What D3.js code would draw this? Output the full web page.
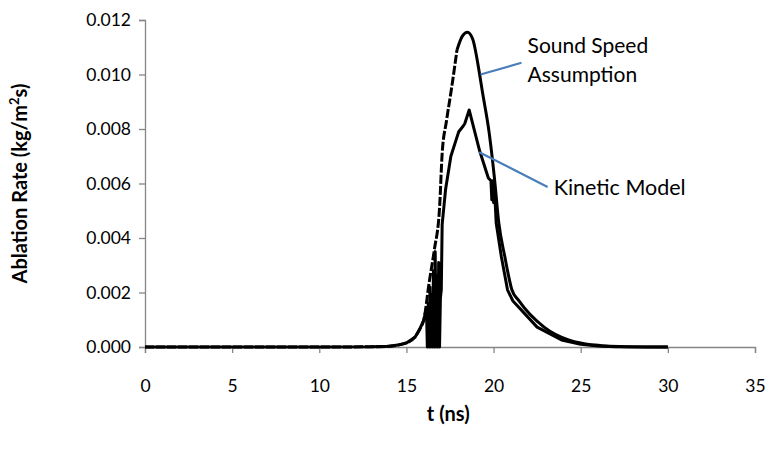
<!DOCTYPE html>
<html>
<head>
<meta charset="utf-8">
<script src="https://cdn.jsdelivr.net/npm/d3@7"></script>
<style>
  body { margin: 0; background: #fff; }
  text { font-family: Lato, "Open Sans", sans-serif; fill: #000; }
</style>
</head>
<body>
<div id="chart"></div>
<script>
// Ablation rate vs time - sound speed assumption vs kinetic model

// sound speed assumption (t in ns, rate in kg/m2s)
const ssT = [0, 5, 10, 13, 14, 14.5, 15, 15.5, 15.8, 16.0, 16.3, 16.6, 16.9, 17.05, 17.3, 17.6, 17.9, 18.2, 18.5, 18.8, 19.2, 19.35, 19.75, 20.05, 20.3, 20.65, 21.05, 21.45, 22.9, 24.3, 25.2, 26.2, 27.2, 30];
const ssRate = [0, 0, 0, 0.00001, 0.00003, 0.00007, 0.00015, 0.00037, 0.0007, 0.001, 0.00235, 0.00356, 0.0051, 0.0071, 0.0083, 0.00954, 0.0109, 0.0114, 0.01155, 0.0113, 0.0100, 0.0094, 0.00785, 0.0062, 0.00455, 0.0033, 0.0021, 0.0017, 0.00073, 0.00026, 0.00012, 0.00005, 0.00002, 0];

// kinetic model
const kmT = [0, 5, 10, 13, 14, 14.5, 15, 15.5, 15.8, 16.0, 16.1, 16.15, 16.2, 16.25, 16.3, 16.35, 16.4, 16.45, 16.5, 16.55, 16.6, 16.65, 16.7, 16.75, 16.8, 16.85, 16.9, 16.95, 17.0, 17.05, 17.25, 17.55, 17.85, 18.0, 18.25, 18.35, 18.6, 18.8, 19.2, 19.7, 19.85, 19.9, 19.95, 20.0, 20.05, 20.1, 20.15, 20.45, 20.8, 21.1, 22.5, 23.9, 25, 26, 27, 30];
const kmRate = [0, 0, 0, 0.00001, 0.00003, 0.00007, 0.00015, 0.00037, 0.0007, 0.001, 0.0013, 0.0014, 0, 0.0016, 0, 0.0022, 0, 0.0019, 0, 0.0028, 0, 0.0035, 0, 0.0026, 0, 0.0031, 0, 0.0018, 0.0021, 0.0045, 0.0058, 0.0070, 0.0076, 0.0079, 0.0081, 0.0082, 0.0087, 0.0082, 0.0072, 0.0062, 0.0061, 0.0054, 0.0061, 0.0053, 0.0058, 0.0052, 0.00455, 0.0033, 0.0021, 0.0017, 0.00073, 0.00026, 0.0001, 0.00004, 0.00001, 0];

const xTicks = [0, 5, 10, 15, 20, 25, 30, 35];
const yTicks = [0, 0.002, 0.004, 0.006, 0.008, 0.010, 0.012];

// set the dimensions and margins of the graph
const margin = {top: 20, right: 16, bottom: 108, left: 145},
    width = 771 - margin.left - margin.right,
    height = 455 - margin.top - margin.bottom;

const svg = d3.select("#chart")
  .append("svg")
    .attr("width", 771)
    .attr("height", 455);

const g = svg.append("g")
    .attr("transform", `translate(${margin.left}, ${margin.top})`);

const x = d3.scaleLinear().domain([0, 35]).range([0, width]);
const y = d3.scaleLinear().domain([0, 0.012]).range([height, 0]);

// axes
const xAxis = g.append("g")
  .attr("transform", `translate(0, ${height})`)
  .call(d3.axisBottom(x).tickValues(xTicks).tickSize(6).tickPadding(27).tickFormat(d3.format("d")));
const yAxis = g.append("g")
  .call(d3.axisLeft(y).tickValues(yTicks).tickSize(6).tickPadding(8).tickFormat(d3.format(".3f")));

[xAxis, yAxis].forEach(function(a) {
  a.selectAll("path, line").attr("stroke", "#868686").attr("stroke-width", 1.3);
  a.selectAll("text").style("font-size", "17.5px").attr("fill", "#000");
});

const line = d3.line()
  .x(function(d) { return x(d[0]); })
  .y(function(d) { return y(d[1]); });

const ss = ssT.map(function(t, i) { return [t, ssRate[i]]; });
const km = kmT.map(function(t, i) { return [t, kmRate[i]]; });
const split = ssT.indexOf(17.9);

// sound speed - dashed on the rising side
g.append("path")
  .datum(ss.slice(0, split + 1))
  .attr("fill", "none")
  .attr("stroke", "#000")
  .attr("stroke-width", 3)
  .attr("stroke-dasharray", "9,2")
  .attr("d", line.curve(d3.curveMonotoneX));
g.append("path")
  .datum(ss.slice(split))
  .attr("fill", "none")
  .attr("stroke", "#000")
  .attr("stroke-width", 3)
  .attr("d", line.curve(d3.curveMonotoneX));

// kinetic model
g.append("path")
  .datum(km)
  .attr("fill", "none")
  .attr("stroke", "#000")
  .attr("stroke-width", 3)
  .attr("stroke-linejoin", "round")
  .attr("d", line.curve(d3.curveLinear));

// annotations
const blue = "#4A7EBB";
g.append("line")
  .attr("x1", x(19.25)).attr("y1", y(0.0100))
  .attr("x2", x(21.6)).attr("y2", y(0.01043))
  .attr("stroke", blue).attr("stroke-width", 2.2);
g.append("line")
  .attr("x1", x(19.18)).attr("y1", y(0.00715))
  .attr("x2", x(23.1)).attr("y2", y(0.00587))
  .attr("stroke", blue).attr("stroke-width", 2.2);

g.append("text").attr("x", x(21.95)).attr("y", y(0.0108))
  .style("font-size", "21px").text("Sound Speed");
g.append("text").attr("x", x(21.95)).attr("y", y(0.00973))
  .style("font-size", "21px").text("Assumption");
g.append("text").attr("x", x(23.45)).attr("y", y(0.00558))
  .style("font-size", "21.5px").text("Kinetic Model");

// axis titles
svg.append("text")
  .attr("x", margin.left + x(17.4))
  .attr("y", 421)
  .attr("text-anchor", "middle")
  .style("font-size", "20px")
  .style("font-weight", "bold")
  .text("t (ns)");

const yl = svg.append("text")
  .attr("transform", `translate(27, ${margin.top + height / 2}) rotate(-90)`)
  .attr("text-anchor", "middle")
  .style("font-size", "20px")
  .style("font-weight", "bold");
yl.append("tspan").text("Ablation Rate (kg/m");
yl.append("tspan").attr("baseline-shift", "super").style("font-size", "13px").text("2");
yl.append("tspan").text("s)");
</script>
</body>
</html>
